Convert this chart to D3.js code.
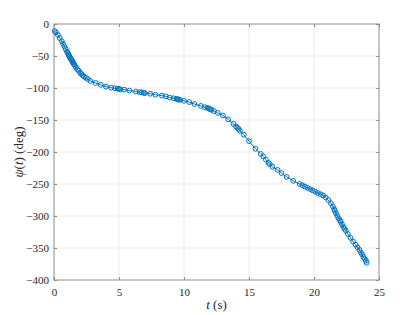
<!DOCTYPE html>
<html>
<head>
<meta charset="utf-8">
<script src="https://cdn.jsdelivr.net/npm/d3@7"></script>
<style>
  body { margin: 0; background: #fff; }
  svg text { font-family: "Liberation Serif", "Times New Roman", "DejaVu Serif", serif; fill: #262626; }
</style>
</head>
<body>
<div id="chart"></div>
<script>
/* Data. */
const tValues = [0.05, 0.15, 0.3, 0.45, 0.6, 0.7, 0.8, 0.9, 1.0, 1.05, 1.1, 1.15, 1.2, 1.25, 1.3, 1.35, 1.4, 1.45, 1.5, 1.55,
  1.6, 1.7, 1.8, 1.9, 2.0, 2.1, 2.2, 2.3, 2.45, 2.6, 2.8, 3.2, 3.6, 4.0, 4.4, 4.7, 4.9, 5.0, 5.1, 5.4,
  5.8, 6.3, 6.6, 6.75, 6.9, 7.0, 7.4, 7.8, 8.3, 8.6, 8.9, 9.2, 9.4, 9.5, 9.6, 9.7, 10.0, 10.4, 10.8, 11.3,
  11.6, 11.8, 11.9, 12.0, 12.1, 12.3, 12.6, 13.0, 13.4, 13.8, 14.0, 14.1, 14.2, 14.3, 14.6, 15.0, 15.5, 15.9, 16.1, 16.3,
  16.5, 16.6, 16.8, 17.2, 17.5, 17.9, 18.4, 18.9, 19.1, 19.3, 19.5, 19.7, 19.9, 20.1, 20.3, 20.5, 20.7, 20.9, 21.1, 21.3,
  21.45, 21.55, 21.6, 21.7, 21.8, 21.9, 22.0, 22.05, 22.15, 22.25, 22.35, 22.45, 22.6, 22.8, 23.0, 23.2, 23.35, 23.5, 23.6, 23.7,
  23.8, 23.9, 24.0, 24.05]
const psiValues = [-11, -13, -17, -22, -27, -31, -35, -39, -43, -45, -47, -49, -51, -53, -55, -56, -58, -60, -62, -63,
  -65, -68, -71, -73, -76, -78, -80, -82, -84, -86, -89, -92, -95, -98, -99.5, -100.5, -101, -101.5, -102, -102.5,
  -104, -105.5, -106.5, -107, -107.5, -108, -109, -110.5, -112, -113, -115, -116, -117, -117.5, -118, -118.5, -120, -122, -125, -128,
  -130, -131, -132, -133, -134, -136, -139, -143, -149, -156, -160, -162, -164, -167, -173, -183, -195, -203, -207, -212,
  -217, -219, -223, -228, -233, -239, -245, -250, -252, -254, -256, -258, -260, -262, -264, -266, -268, -271, -275, -280,
  -285, -289, -292, -296, -300, -304, -307, -309, -313, -317, -320, -323, -328, -334, -340, -345, -349, -353, -357, -360,
  -364, -367, -370, -373]
const xTicks = [0, 5, 10, 15, 20, 25]
const yTicks = [0, -50, -100, -150, -200, -250, -300, -350, -400]

const serif = "'Liberation Serif', 'Times New Roman', serif"

/* Size and margins. */
const width = 420
const height = 315
const margin = { top: 24, right: 41, bottom: 35, left: 54 }
const innerW = width - margin.left - margin.right
const innerH = height - margin.top - margin.bottom

const svg = d3.select("#chart")
  .append("svg")
  .attr("width", width)
  .attr("height", height)

const g = svg.append("g")
  .attr("transform", `translate(${margin.left},${margin.top})`)

/* Scales. */
const x = d3.scaleLinear().domain([0, 25]).range([0, innerW])
const y = d3.scaleLinear().domain([-400, 0]).range([innerH, 0])

/* Grid. */
g.append("g")
  .selectAll("line")
  .data(xTicks.slice(1, -1))
  .join("line")
  .attr("x1", d => x(d)).attr("x2", d => x(d))
  .attr("y1", 0).attr("y2", innerH)
  .attr("stroke", "#ebebeb")
g.append("g")
  .selectAll("line")
  .data(yTicks.slice(1, -1))
  .join("line")
  .attr("x1", 0).attr("x2", innerW)
  .attr("y1", d => y(d)).attr("y2", d => y(d))
  .attr("stroke", "#ebebeb")

/* Axes, ticks inward on all sides. */
const styleAxis = (sel) => {
  sel.attr("font-family", serif).attr("font-size", 11)
  sel.select(".domain").remove()
  sel.selectAll(".tick line").attr("stroke", "#8c8c8c")
  sel.selectAll(".tick text").attr("fill", "#262626")
}
g.append("g")
  .attr("transform", `translate(0,${innerH})`)
  .call(d3.axisBottom(x).tickValues(xTicks).tickSize(-3).tickPadding(8))
  .call(styleAxis)
g.append("g")
  .call(d3.axisTop(x).tickValues(xTicks).tickSize(-3).tickFormat(""))
  .call(styleAxis)
g.append("g")
  .call(d3.axisLeft(y).tickValues(yTicks).tickSize(-3).tickPadding(5))
  .call(styleAxis)
g.append("g")
  .attr("transform", `translate(${innerW},0)`)
  .call(d3.axisRight(y).tickValues(yTicks).tickSize(-3).tickFormat(""))
  .call(styleAxis)

/* Box. */
g.append("rect")
  .attr("width", innerW).attr("height", innerH)
  .attr("fill", "none").attr("stroke", "#8c8c8c").attr("stroke-width", 1)

/* Line and markers. */
const points = tValues.map((t, i) => ({ t: t, psi: psiValues[i] }))
const line = d3.line().x(d => x(d.t)).y(d => y(d.psi))
g.append("path")
  .datum(points)
  .attr("d", line)
  .attr("fill", "none")
  .attr("stroke", "#0072BD")
  .attr("stroke-width", 1)
g.append("g")
  .selectAll("circle")
  .data(points)
  .join("circle")
  .attr("cx", d => x(d.t))
  .attr("cy", d => y(d.psi))
  .attr("r", 2.4)
  .attr("fill", "none")
  .attr("stroke", "#0072BD")
  .attr("stroke-width", 1)

/* Labels. */
const xLabel = svg.append("text")
  .attr("x", margin.left + innerW / 2)
  .attr("y", 309)
  .attr("text-anchor", "middle")
  .attr("font-family", serif)
  .attr("font-size", 13)
xLabel.append("tspan").attr("font-style", "italic").text("t")
xLabel.append("tspan").text(" (s)")

const yLabel = svg.append("text")
  .attr("transform", `translate(23,${margin.top + innerH / 2}) rotate(-90)`)
  .attr("text-anchor", "middle")
  .attr("font-family", serif)
  .attr("font-size", 13)
yLabel.append("tspan").attr("font-style", "italic").text("ψ")
yLabel.append("tspan").text("(")
yLabel.append("tspan").attr("font-style", "italic").text("t")
yLabel.append("tspan").text(") (deg)")
</script>
</body>
</html>
